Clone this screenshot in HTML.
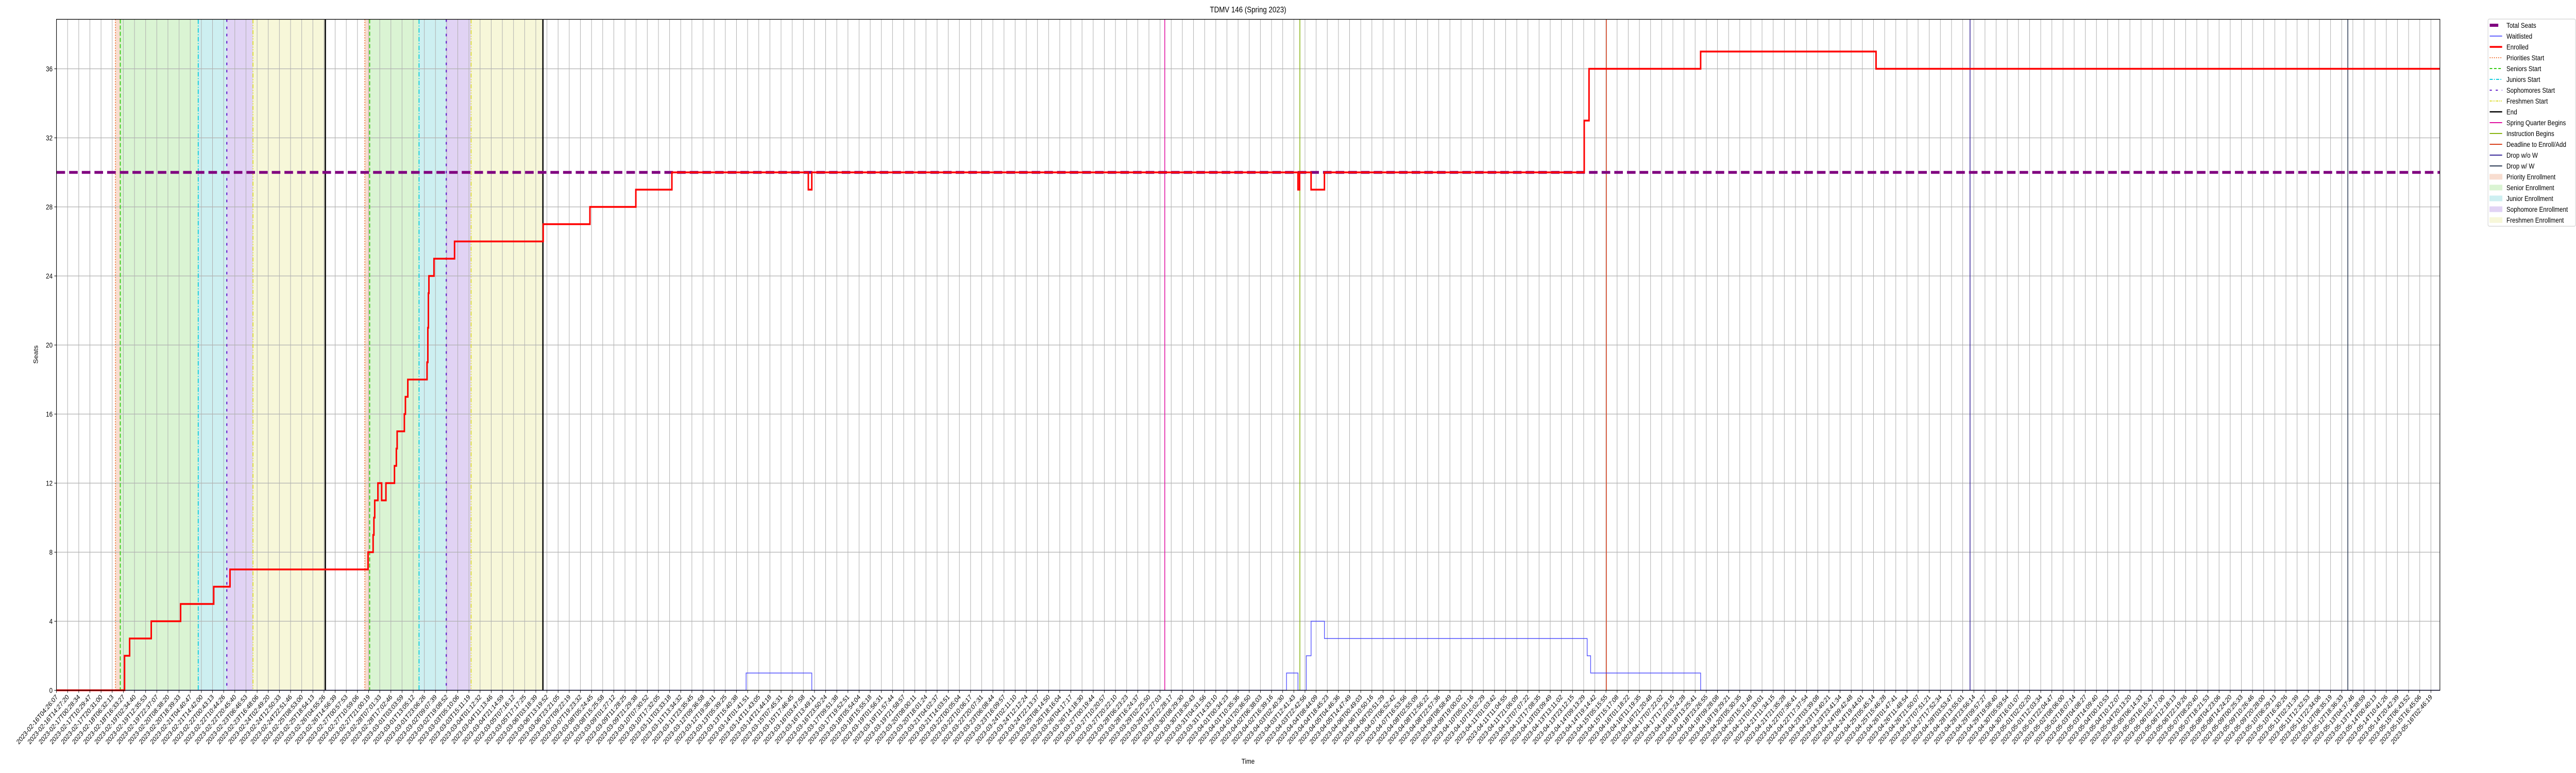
<!DOCTYPE html>
<html><head><meta charset="utf-8">
<style>
html,body{margin:0;padding:0;background:#fff;overflow:hidden;width:100%;height:100%;}
svg{display:block;width:100vw;height:100vh;font-family:"Liberation Sans","DejaVu Sans",sans-serif;}
</style></head>
<body>
<svg id="chart" viewBox="0 0 6000 1500" preserveAspectRatio="none" xmlns="http://www.w3.org/2000/svg">
<text x="2907" y="24" font-size="16" text-anchor="middle" fill="#000">TDMV 146 (Spring 2023)</text>
<text x="2907" y="1482" font-size="14" text-anchor="middle" fill="#000">Time</text>
<text x="0" y="0" font-size="14" text-anchor="middle" fill="#000" transform="translate(88,688) rotate(-90)">Seats</text>
<g id="fills"></g><g id="grid"></g><g id="vlines"></g><g id="series"></g><g id="axes"></g><g id="legend"></g>
</svg>
<script>
// ---- data (times are day offsets from 2023-02-16T04:26:07) ----
const totalSeats = 30;
const enrolledDays = [0, 2.55, 2.74, 3.55, 4.65, 5.89, 6.50, 11.67, 11.86, 11.89, 11.92, 12.04, 12.18, 12.34, 12.66, 12.73, 12.76, 13.03, 13.07, 13.16, 13.88, 13.91, 13.93, 13.95, 14.14, 14.91, 18.23, 19.98, 21.70, 23.05, 28.16, 28.29, 46.50, 46.56, 46.99, 47.49, 57.22, 57.40, 61.58, 68.15, 89.27];
const enrolledVals = [0, 2, 3, 4, 5, 6, 7, 8, 9, 10, 11, 12, 11, 12, 13, 14, 15, 16, 17, 18, 19, 21, 23, 24, 25, 26, 27, 28, 29, 30, 29, 30, 29, 30, 29, 30, 33, 36, 37, 36, 36];
const waitDays = [0, 25.83, 28.29, 46.07, 46.50, 46.81, 46.99, 47.49, 57.33, 57.46, 61.58, 89.27];
const waitVals = [0, 1, 0, 1, 0, 2, 4, 3, 2, 1, 0, 0];
const periodNames = ["Priority Enrollment","Senior Enrollment","Junior Enrollment","Sophomore Enrollment","Freshmen Enrollment"];
const round1Days = [2.21, 2.39, 5.31, 6.38, 7.36, 10.07];
const round2Days = [11.55, 11.73, 13.58, 14.60, 15.53, 18.22];
const eventNames = ["Spring Quarter Begins","Instruction Begins","Deadline to Enroll/Add","Drop w/o W","Drop w/ W"];
const eventDays = [41.51, 46.57, 58.05, 71.67, 85.82];
const tickStart = "2023-02-16T04:26:07Z";
const tickEnd = "2023-05-16T02:46:19Z";
const tickCount = 214;
const yTicks = [0, 4, 8, 12, 16, 20, 24, 28, 32, 36];

// ---- scales ----
const X0 = 131.5, XR = 5683, YT = 37.5, Y0 = 1339.5;
const PXD = (5662 - 131.5) / ((Date.parse(tickEnd) - Date.parse(tickStart)) / 86400000);
const xs = d => X0 + d * PXD;
const ys = v => Y0 - v * 33.5;
const NS = "http://www.w3.org/2000/svg";
function mk(tag, attrs, parent) {
  const e = document.createElementNS(NS, tag);
  for (const k in attrs) e.setAttribute(k, attrs[k]);
  parent.appendChild(e);
  return e;
}
const gF = document.getElementById('fills'), gG = document.getElementById('grid'),
  gV = document.getElementById('vlines'), gS = document.getElementById('series'),
  gA = document.getElementById('axes'), gL = document.getElementById('legend');

const fillColors = ["#f8ddd0", "#daf4d3", "#cdeff1", "#e1d3f4", "#f7f7d9"];
const startStyles = [
  {c: "#f07030", d: "2,3", w: 2.2},
  {c: "#33cc11", d: "8,4", w: 2.2},
  {c: "#11ccdd", d: "9,3,2,3", w: 2.2},
  {c: "#6622cc", d: "5,9", w: 2.6},
  {c: "#dddd33", d: "8,3,2,3,2,3", w: 2.2}
];
const startNames = ["Priorities Start","Seniors Start","Juniors Start","Sophomores Start","Freshmen Start"];

[round1Days, round2Days].forEach((r, ri) => {
  for (let i = 0; i < 5; i++) {
    const x1 = xs(r[i]), x2 = xs(r[i + 1]);
    const el = mk('rect', {x: x1, y: YT, width: x2 - x1, height: Y0 - YT, fill: fillColors[i]}, gF);
    
    
  }
});

const t0 = Date.parse(tickStart), t1 = Date.parse(tickEnd);
const step = (t1 - t0) / (tickCount - 1);
for (let i = 0; i < tickCount; i++) {
  const t = t0 + i * step;
  const d = (t - t0) / 86400000;
  const x = xs(d);
  const gl = mk('line', {x1: x, x2: x, y1: YT, y2: Y0, stroke: "#b0b0b0", "stroke-width": 1.2}, gG);
  
  
  const tk = mk('line', {x1: x, x2: x, y1: Y0, y2: Y0 + 5, stroke: "#000", "stroke-width": 1}, gA);
  
  
  const lab = new Date(Math.round(t / 1000) * 1000).toISOString().slice(0, 19);
  const tx = mk('text', {x: 0, y: 0, "font-size": 13.5, "text-anchor": "end", fill: "#000", transform: `translate(${x + 4},${Y0 + 14}) rotate(-45)`}, gA);
  tx.textContent = lab;
  
  
}
yTicks.forEach(v => {
  const y = ys(v);
  const gl = mk('line', {x1: X0, x2: XR, y1: y, y2: y, stroke: "#b0b0b0", "stroke-width": 1.2}, gG);
  
  
  const tk = mk('line', {x1: X0 - 5, x2: X0, y1: y, y2: y, stroke: "#000", "stroke-width": 1}, gA);
  
  
  const tx = mk('text', {x: X0 - 9, y: y + 5, "font-size": 14, "text-anchor": "end", fill: "#000"}, gA);
  tx.textContent = v;
  
  
});

[round1Days, round2Days].forEach((r, ri) => {
  for (let i = 0; i < 5; i++) {
    const s = startStyles[i], x = xs(r[i]);
    const el = mk('line', {x1: x, x2: x, y1: YT, y2: Y0, stroke: s.c, "stroke-width": s.w, "stroke-dasharray": s.d}, gV);
    
    
  }
  const xe = xs(r[5]);
  const en = mk('line', {x1: xe, x2: xe, y1: YT, y2: Y0, stroke: "#000", "stroke-width": 3}, gV);
  
  
});
const eventColors = ["#e0109f", "#88b411", "#d8401c", "#3a2a9a", "#2b3a55"];
eventDays.forEach((d, i) => {
  const x = xs(d);
  const el = mk('line', {x1: x, x2: x, y1: YT, y2: Y0, stroke: eventColors[i], "stroke-width": 1.8}, gV);
  
  
});

const ts = mk('line', {x1: X0, x2: XR, y1: ys(totalSeats), y2: ys(totalSeats), stroke: "#800080", "stroke-width": 5.5, "stroke-dasharray": "20,9.5"}, gS);



function stepPath(days, vals) {
  let p = `M${xs(days[0])},${ys(vals[0])}`;
  for (let i = 1; i < days.length; i++) {
    p += ` H${xs(days[i])} V${ys(vals[i])}`;
  }
  return p + ` H${XR}`;
}
const wl = mk('path', {d: stepPath(waitDays, waitVals), fill: "none", stroke: "#3333ff", "stroke-width": 1.6, opacity: 0.85}, gS);


const el = mk('path', {d: stepPath(enrolledDays, enrolledVals), fill: "none", stroke: "#ff0000", "stroke-width": 3.5}, gS);



const fr = mk('rect', {x: X0, y: YT, width: XR - X0, height: Y0 - YT, fill: "none", stroke: "#000", "stroke-width": 1.3}, gA);



const lb = mk('rect', {x: 5795, y: 37, width: 204, height: 402, rx: 3, fill: "#fff", stroke: "#d0d0d0", "stroke-width": 1.2}, gL);


const legendItems = [
  {n: "Total Seats", t: "line", c: "#800080", w: 6, d: ""},
  {n: "Waitlisted", t: "line", c: "#3333ff", w: 1.5, d: ""},
  {n: "Enrolled", t: "line", c: "#ff0000", w: 3.5, d: ""},
  {n: "Priorities Start", t: "line", c: "#f07030", w: 2, d: "2,3"},
  {n: "Seniors Start", t: "line", c: "#33cc11", w: 2, d: "6,4"},
  {n: "Juniors Start", t: "line", c: "#11ccdd", w: 2, d: "7,3,2,3"},
  {n: "Sophomores Start", t: "line", c: "#6622cc", w: 2, d: "5,9"},
  {n: "Freshmen Start", t: "line", c: "#dddd33", w: 2, d: "5,2,2,2,2,2"},
  {n: "End", t: "line", c: "#000", w: 2.5, d: ""},
  {n: "Spring Quarter Begins", t: "line", c: "#e0109f", w: 2, d: ""},
  {n: "Instruction Begins", t: "line", c: "#88b411", w: 2, d: ""},
  {n: "Deadline to Enroll/Add", t: "line", c: "#d8401c", w: 2, d: ""},
  {n: "Drop w/o W", t: "line", c: "#3a2a9a", w: 2, d: ""},
  {n: "Drop w/ W", t: "line", c: "#2b3a55", w: 2, d: ""},
  {n: "Priority Enrollment", t: "rect", c: "#f8ddd0"},
  {n: "Senior Enrollment", t: "rect", c: "#daf4d3"},
  {n: "Junior Enrollment", t: "rect", c: "#cdeff1"},
  {n: "Sophomore Enrollment", t: "rect", c: "#e1d3f4"},
  {n: "Freshmen Enrollment", t: "rect", c: "#f7f7d9"}
];
legendItems.forEach((it, i) => {
  const y = 49 + i * 21;
  const g = mk('g', {}, gL);
  
  
  if (it.t === "line") {
    const x2 = i === 0 ? 5819 : 5828;
    mk('line', {x1: 5799, x2: x2, y1: y, y2: y, stroke: it.c, "stroke-width": it.w, "stroke-dasharray": it.d}, g);
  } else {
    mk('rect', {x: 5799, y: y - 5, width: 29, height: 10, fill: it.c, stroke: it.c}, g);
  }
  const tx = mk('text', {x: 5838, y: y + 5, "font-size": 14, fill: "#000"}, g);
  tx.textContent = it.n;
});
</script>
</body></html>
